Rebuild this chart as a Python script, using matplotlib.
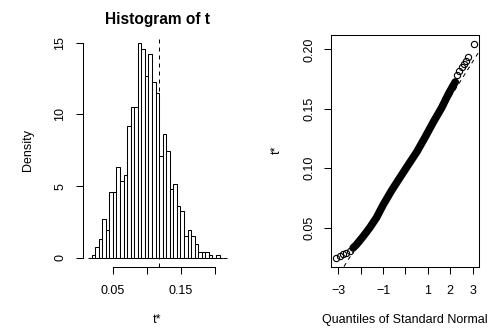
import numpy as np
import matplotlib
matplotlib.use('Agg')
import matplotlib.pyplot as plt

plt.rcParams['font.family'] = ['Liberation Sans', 'DejaVu Sans']

# bootstrap replicates of t: histogram counts per bin (999 replicates)
t0 = 0.1183            # observed value, dashed line
bin_width = 0.00522
n_left = 20            # bins left of t0
bin_counts = [0, 1, 4, 7, 14, 10, 24, 24, 33, 28, 30, 48, 55, 55, 78, 76, 66,
              74, 64, 60, 37, 45, 39, 25, 27, 19, 17, 8, 10, 8, 5, 2, 2, 2,
              1, 0, 1, 0, 0]

# normal QQ plot of t*
band_q = [-2.34, -2.19, -1.89, -1.59, -1.29, -1.00, -0.62, -0.25, 0.13,
          0.50, 0.88, 1.25, 1.62, 1.92, 2.22]
band_t = [0.0328, 0.0356, 0.0425, 0.0500, 0.0585, 0.0690, 0.0812, 0.0920,
          0.1030, 0.1135, 0.1262, 0.1390, 0.1510, 0.1625, 0.1725]
tail_q = [-3.09, -2.94, -2.79, -2.64, -2.49,
          2.32, 2.41, 2.52, 2.59, 2.71, 2.81, 3.05]
tail_t = [0.0246, 0.0262, 0.0276, 0.0288, 0.0306,
          0.1785, 0.1815, 0.1850, 0.1875, 0.1905, 0.1935, 0.2047]
t_mean = 0.0996
t_sd = 0.0300

W, H = 498, 330


def box(l, t, r, b):
    return [l / W, 1 - b / H, (r - l) / W, (b - t) / H]


fig = plt.figure(figsize=(W / 100, H / 100), dpi=100)
fs = 9

# histogram
ax1 = fig.add_axes(box(82.5, 34.7, 232.3, 266.5))
edges = t0 + (np.arange(len(bin_counts) + 1) - n_left) * bin_width
mids = (edges[:-1] + edges[1:]) / 2
ax1.hist(mids, bins=edges, weights=bin_counts, density=True,
         color='white', edgecolor='black', linewidth=0.75)
ax1.axvline(t0, color='black', lw=0.72, ls=(0, (4, 4)))
ax1.set_xlim(0.00575, 0.2257)
ax1.set_ylim(-0.6, 15.56)
for s in ['top', 'right']:
    ax1.spines[s].set_visible(False)
ax1.spines['left'].set_bounds(0, 15)
ax1.spines['bottom'].set_bounds(0.05, 0.20)
ax1.set_xticks([0.05, 0.10, 0.15, 0.20])
ax1.set_xticklabels(['0.05', '', '0.15', ''])
ax1.set_yticks([0, 5, 10, 15])
ax1.set_yticklabels(['0', '5', '10', '15'])
fig.text(157.4 / W, 1 - 19.5 / H, 'Histogram of t', ha='center', va='center',
         fontsize=11.2, fontweight='bold')
fig.text(157.4 / W, 1 - 320 / H, 't*', ha='center', va='center', fontsize=fs)
fig.text(28 / W, 1 - 150 / H, 'Density', ha='center', va='center',
         rotation=90, fontsize=fs)

# normal QQ plot
ax2 = fig.add_axes(box(331, 34.7, 479.3, 266.5))
ax2.axline((0, t_mean), slope=t_sd, color='black', lw=0.72, ls=(0, (4, 4)),
           zorder=1)
ax2.plot(band_q, band_t, color='black', lw=5.5, solid_capstyle='round',
         solid_joinstyle='round', zorder=2)
ax2.plot(tail_q, tail_t, 'o', mfc='none', mec='black', ms=4.5, mew=0.8,
         zorder=3)
ax2.set_xlim(-3.326, 3.295)
ax2.set_ylim(0.0172, 0.2123)
ax2.set_xticks([-3, -2, -1, 0, 1, 2, 3])
ax2.set_xticklabels(['\u22123', '', '\u22121', '', '1', '2', '3'])
ax2.set_yticks([0.05, 0.10, 0.15, 0.20])
ax2.set_yticklabels(['0.05', '0.10', '0.15', '0.20'])
fig.text(405 / W, 1 - 320 / H, 'Quantiles of Standard Normal', ha='center',
         va='center', fontsize=fs)
fig.text(277 / W, 1 - 150 / H, 't*', ha='center', va='center',
         rotation=90, fontsize=fs)

for ax in (ax1, ax2):
    ax.tick_params(direction='out', length=5, width=0.75, labelsize=fs)
    ax.tick_params(axis='x', pad=8)
    ax.tick_params(axis='y', pad=6.5)
    plt.setp(ax.get_yticklabels(), rotation=90, va='center')
    for s in ax.spines.values():
        s.set_linewidth(0.75)

fig.savefig('out.png', dpi=100)
